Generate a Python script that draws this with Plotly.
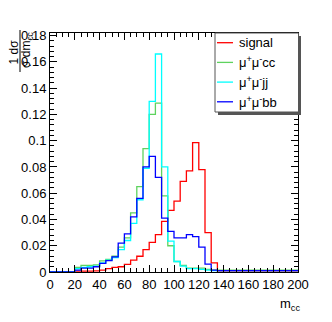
import plotly.graph_objects as go

# m_cc bins: 40 bins of width 5 from 0 to 200
bin_edges = [5 * i for i in range(41)]

signal = [0, 0, 0, 0, 0.0006, 0.0006, 0.0006, 0.0008, 0.0015, 0.0025,
          0.0035, 0.004, 0.0058, 0.009, 0.012, 0.017, 0.0225, 0.0285, 0.0385, 0.047,
          0.054, 0.069, 0.077, 0.0985, 0.078, 0.030, 0.007, 0.0008, 0.0008, 0.0008,
          0.0008, 0.0008, 0.0008, 0.0008, 0.0008, 0.0008, 0.0008, 0.0008, 0.0008, 0.0008]
mumu_cc = [0, 0, 0, 0, 0.0035, 0.005, 0.005, 0.0055, 0.0085, 0.0095,
           0.012, 0.019, 0.026, 0.045, 0.065, 0.094, 0.12, 0.1286, 0.058, 0.020,
           0.008, 0.005, 0.003, 0.003, 0.003, 0.002, 0.0015, 0.0015, 0.0015, 0.0015,
           0.0015, 0.0015, 0.0015, 0.0015, 0.0015, 0.0015, 0.0015, 0.0015, 0.0015, 0.0015]
mumu_jj = [0, 0, 0, 0, 0.0025, 0.0035, 0.004, 0.0045, 0.007, 0.009,
           0.011, 0.017, 0.024, 0.037, 0.055, 0.079, 0.130, 0.166, 0.080, 0.0235,
           0.008, 0.0045, 0.0025, 0.0025, 0.002, 0.0015, 0.001, 0.001, 0.001, 0.001,
           0.001, 0.001, 0.001, 0.001, 0.001, 0.001, 0.001, 0.001, 0.001, 0.001]
mumu_bb = [0, 0, 0, 0, 0.0015, 0.003, 0.003, 0.004, 0.0065, 0.0087,
           0.0115, 0.022, 0.029, 0.042, 0.056, 0.080, 0.088, 0.072, 0.041, 0.031,
           0.026, 0.026, 0.0285, 0.027, 0.019, 0.006, 0.0015, 0.001, 0.001, 0.001,
           0.001, 0.001, 0.001, 0.001, 0.001, 0.001, 0.001, 0.001, 0.001, 0.001]

names = ["signal", "μ<sup>+</sup>μ<sup>-</sup>cc", "μ<sup>+</sup>μ<sup>-</sup>jj", "μ<sup>+</sup>μ<sup>-</sup>bb"]
colors = ["#ff0000", "#5ed35e", "#00ffff", "#0000ff"]

y_ticks = [0, 0.02, 0.04, 0.06, 0.08, 0.1, 0.12, 0.14, 0.16, 0.18]
y_labels = ["0", "0.02", "0.04", "0.06", "0.08", "0.1", "0.12", "0.14", "0.16", "0.18"]
x_ticks = [0, 20, 40, 60, 80, 100, 120, 140, 160, 180, 200]

# page body has an 8px margin, so the figure is drawn 8px smaller
OFF = 8
W, H = 332 - OFF, 322 - OFF
# plot area in screen pixels: x 50..298, y 33..272
L, R, T, B = 50, 298, 33, 272
def px(x):
    return (x - L) / (R - L)
def py(y):
    return (B - y) / (B - T)

fig = go.Figure()
for vals, name, col in zip([signal, mumu_cc, mumu_jj, mumu_bb], names, colors):
    fig.add_trace(go.Scatter(x=bin_edges, y=vals + [vals[-1]], mode="lines",
                             line=dict(color=col, width=1.3, shape="hv"), name=name,
                             showlegend=False))

axis_common = dict(showline=True, linecolor="black", linewidth=1, mirror="ticks",
                   ticks="inside", ticklen=7, tickcolor="black", showgrid=False,
                   zeroline=False, tickfont=dict(size=13, color="black"))

fig.update_xaxes(range=[0, 200], tickvals=x_ticks,
                 minor=dict(ticks="inside", ticklen=4, dtick=5, tickcolor="black", showgrid=False),
                 **axis_common)
fig.update_yaxes(range=[0, 0.182], tickvals=y_ticks, ticktext=y_labels,
                 minor=dict(ticks="inside", ticklen=4, dtick=0.004, tickcolor="black", showgrid=False),
                 **axis_common)

# legend box drawn by hand (ROOT style with shadow)
fig.add_shape(type="rect", xref="paper", yref="paper", x0=px(218), x1=px(301), y0=py(115), y1=py(36),
              fillcolor="#555555", line=dict(width=0), layer="above")
fig.add_shape(type="rect", xref="paper", yref="paper", x0=px(215), x1=px(298.5), y0=py(112), y1=py(33),
              fillcolor="white", line=dict(color="#555555", width=1), layer="above")
for i, (name, col) in enumerate(zip(names, colors)):
    yc = 42.7 + 19.7 * i
    fig.add_shape(type="line", xref="paper", yref="paper", x0=px(217), x1=px(233), y0=py(yc), y1=py(yc),
                  line=dict(color=col, width=1.3), layer="above")
    fig.add_annotation(text=name, xref="paper", yref="paper", x=px(237), y=py(yc),
                       xanchor="left", yanchor="middle", showarrow=False,
                       font=dict(size=13, color="black"))

# y title as a fraction 1/sigma dsigma/dm_cc
fig.add_annotation(text="1 dσ", textangle=-90, xref="paper", yref="paper", x=px(13.5), y=py(52),
                   xanchor="center", yanchor="middle", showarrow=False, font=dict(size=12, color="black"))
fig.add_annotation(text="σ dm<sub>cc</sub>", textangle=-90, xref="paper", yref="paper", x=px(27), y=py(50),
                   xanchor="center", yanchor="middle", showarrow=False, font=dict(size=12, color="black"))
fig.add_shape(type="line", xref="paper", yref="paper", x0=px(20), x1=px(20), y0=py(72), y1=py(30),
              line=dict(color="black", width=1))
fig.add_annotation(text="m<sub>cc</sub>", xref="paper", yref="paper", x=px(290), y=py(304),
                   xanchor="center", yanchor="middle", showarrow=False, font=dict(size=13, color="black"))

fig.update_layout(
    width=W, height=H,
    margin=dict(l=L - OFF, r=W - (R - OFF), t=T - OFF, b=H - (B - OFF), autoexpand=False),
    plot_bgcolor="white", paper_bgcolor="white",
    font=dict(family="Liberation Sans, Arial, sans-serif", color="black"),
    showlegend=False,
)

fig.write_html("out.html")
